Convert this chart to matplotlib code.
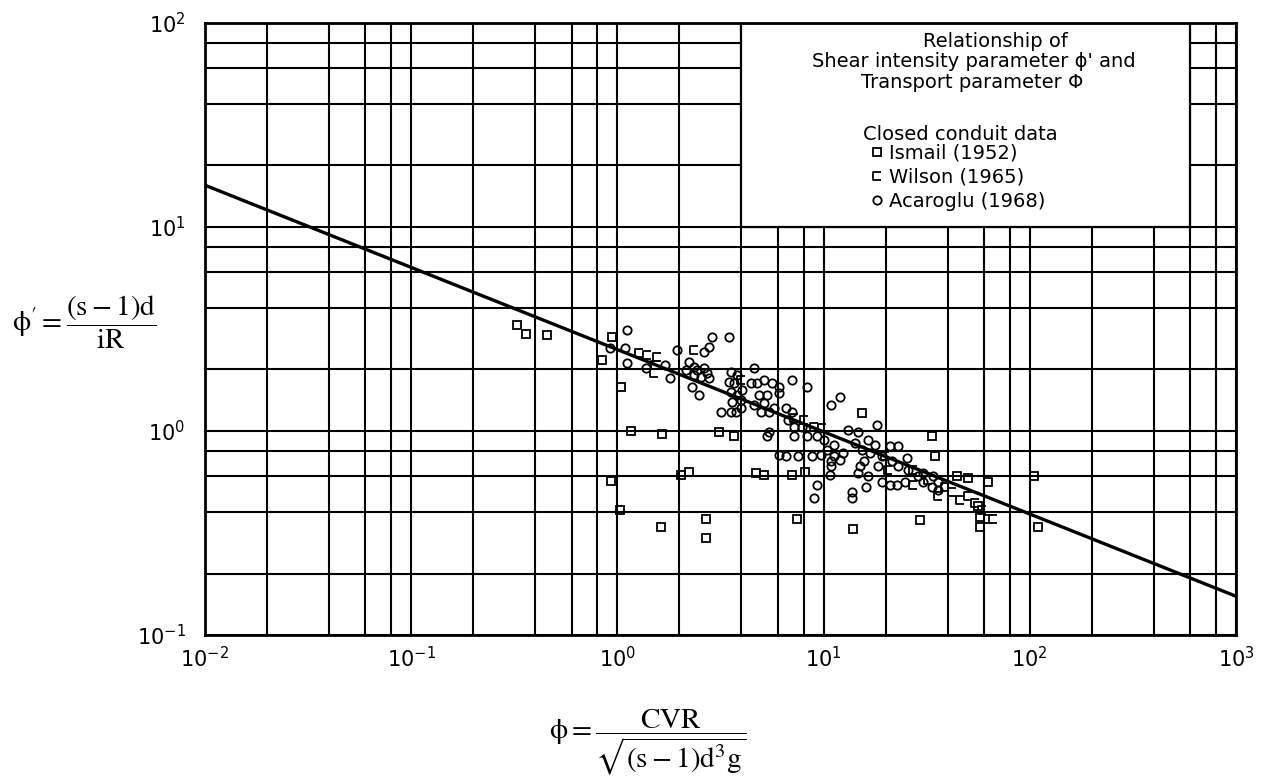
import matplotlib
matplotlib.use("Agg")
import matplotlib.pyplot as plt
from matplotlib.path import Path
from matplotlib.patches import Rectangle
from matplotlib.ticker import LogLocator, NullFormatter


# Ismail (1952), squares
ismail_x = [0.325, 0.362, 0.454, 0.94, 0.84, 1.04, 1.16, 1.64, 3.11, 3.68,
            15.3, 33.6, 34.8, 62.5, 57.7, 57.7, 56.0,
            4.7, 5.15, 7.0, 8.1, 2.03, 2.22,
            0.93, 1.03, 1.62, 2.7, 2.7, 7.4, 13.9, 29.4,
            44.5, 50.0, 105.0, 110.0]
ismail_y = [3.29, 3.0, 2.94, 2.87, 2.22, 1.64, 1.0, 0.97, 0.99, 0.94,
            1.22, 0.94, 0.75, 0.56, 0.38, 0.34, 0.43,
            0.62, 0.61, 0.61, 0.63, 0.61, 0.63,
            0.57, 0.41, 0.34, 0.37, 0.30, 0.37, 0.33, 0.365,
            0.60, 0.59, 0.60, 0.34]

# Wilson (1965), "c" marks
wilson_x = [1.27, 1.39, 1.55, 2.35, 1.53, 1.5, 3.97,
            7.22, 8.08, 9.04, 9.8,
            19.8, 20.5, 27.2, 32.2, 38.9, 27.2,
            36.0, 42.0, 46.0, 50.0, 54.5, 59.0, 62.5, 66.0]
wilson_y = [2.4, 2.35, 2.3, 2.48, 2.1, 1.92, 1.77,
            1.16, 1.13, 1.05, 1.03,
            0.75, 0.645, 0.645, 0.577, 0.53, 0.545,
            0.48, 0.50, 0.46, 0.48, 0.445, 0.41, 0.37, 0.37]

# Acaroglu (1968), circles
acaroglu_x = [1.11, 1.09, 0.92, 1.11, 1.94, 2.63, 2.78, 2.88, 3.48,
              1.37, 1.71, 1.81, 2.22, 2.35, 2.15, 2.43, 2.63, 2.72, 2.35, 2.54, 2.78, 2.3, 2.48,
              3.55, 3.8, 3.48, 3.68, 4.03, 3.55, 3.8, 3.6, 3.97, 3.97, 3.55, 3.18, 3.76,
              4.61, 4.45, 4.76, 5.15, 5.64, 6.1, 6.1, 4.87, 5.33, 4.61, 5.15, 5.0, 5.45, 5.77, 7.0, 8.36,
              6.6, 7.0, 6.7, 7.22, 7.9, 7.22, 8.36, 5.45, 5.33,
              10.9, 12.0, 18.1,
              9.3, 10.1, 11.3, 10.4, 9.7, 8.8, 7.5, 6.6, 6.1, 11.3, 12.4, 12.0, 10.9,
              13.1, 14.7, 16.4, 14.2, 15.3, 16.8, 15.8, 15.0, 14.7, 16.4, 18.3, 19.2, 17.7, 21.0, 23.0,
              21.5, 25.4, 23.0, 25.7, 28.7, 30.4, 34.0, 36.0,
              19.2, 21.0, 22.6, 24.8, 30.4, 33.6, 36.0,
              9.3, 9.0, 13.7, 13.7, 16.1, 10.9, 10.7]
acaroglu_y = [3.11, 2.54, 2.54, 2.15, 2.48, 2.43, 2.57, 2.87, 2.87,
              2.03, 2.1, 1.81, 2.17, 2.05, 1.98, 1.98, 2.03, 1.92, 1.88, 1.83, 1.81, 1.64, 1.5,
              1.94, 1.88, 1.73, 1.71, 1.58, 1.55, 1.5, 1.38, 1.42, 1.3, 1.24, 1.24, 1.24,
              2.03, 1.71, 1.71, 1.77, 1.71, 1.64, 1.53, 1.5, 1.5, 1.34, 1.37, 1.24, 1.24, 1.3, 1.77, 1.64,
              1.3, 1.24, 1.13, 1.05, 1.05, 0.94, 0.94, 0.99, 0.94,
              1.34, 1.46, 1.07,
              0.94, 0.90, 0.855, 0.81, 0.76, 0.75, 0.75, 0.75, 0.76, 0.75, 0.78, 0.72, 0.71,
              1.01, 0.99, 0.90, 0.87, 0.81, 0.78, 0.71, 0.67, 0.62, 0.60, 0.67, 0.75, 0.855, 0.84, 0.84,
              0.71, 0.74, 0.67, 0.645, 0.60, 0.62, 0.60, 0.56,
              0.56, 0.545, 0.545, 0.56, 0.56, 0.53, 0.515,
              0.545, 0.47, 0.50, 0.47, 0.53, 0.67, 0.61]

# fitted relation
line_x = [0.01, 1000]
line_y = [16.0, 0.155]

c_marker = Path([(0.5, 0.5), (-0.5, 0.5), (-0.5, -0.5), (0.5, -0.5)],
                [Path.MOVETO, Path.LINETO, Path.LINETO, Path.LINETO])

fig = plt.figure(figsize=(12.65, 7.84), dpi=100)
ax = fig.add_axes([0.162, 0.190, 0.815, 0.781])
ax.set_xscale("log")
ax.set_yscale("log")
ax.set_xlim(1e-2, 1e3)
ax.set_ylim(1e-1, 1e2)

# log paper grid: 1, 2, 4, 6, 8 in each decade
for axis in (ax.xaxis, ax.yaxis):
    axis.set_minor_locator(LogLocator(base=10, subs=(2, 4, 6, 8)))
    axis.set_minor_formatter(NullFormatter())
ax.grid(True, which="both", color="black", lw=1.5)
ax.tick_params(which="both", length=0, labelsize=15)
ax.tick_params(axis="x", pad=8)
ax.tick_params(axis="y", pad=14)
for s in ax.spines.values():
    s.set_linewidth(2)

ax.plot(line_x, line_y, color="black", lw=2.4, zorder=3)

ax.plot(ismail_x, ismail_y, ls="none", marker="s", ms=5.5, mfc="none",
        mec="black", mew=1.3, zorder=4, label="Ismail (1952)")
ax.plot(wilson_x, wilson_y, ls="none", marker=c_marker, ms=6, mfc="none",
        mec="black", mew=1.3, zorder=4, label="Wilson (1965)")
ax.plot(acaroglu_x, acaroglu_y, ls="none", marker="o", ms=6, mfc="none",
        mec="black", mew=1.3, zorder=4, label="Acaroglu (1968)")

# white legend panel over the grid
ax.add_patch(Rectangle((4, 10), 596, 90, facecolor="white", edgecolor="black",
                       lw=1.6, zorder=2.2))

ax.text(0.767, 0.970, "Relationship of", transform=ax.transAxes,
        ha="center", va="center", fontsize=14, zorder=5)
ax.text(0.746, 0.937, "Shear intensity parameter \u03d5' and", transform=ax.transAxes,
        ha="center", va="center", fontsize=14, zorder=5)
ax.text(0.744, 0.902, "Transport parameter \u03a6", transform=ax.transAxes,
        ha="center", va="center", fontsize=14, zorder=5)
ax.text(0.638, 0.818, "Closed conduit data", transform=ax.transAxes,
        ha="left", va="center", fontsize=14, zorder=5)

leg = ax.legend(loc="upper left", bbox_to_anchor=(0.645, 0.802), frameon=False,
                fontsize=14, handlelength=0.7, handletextpad=0.3,
                labelspacing=0.25, borderpad=0, borderaxespad=0)
leg.set_zorder(5)

ax.set_ylabel("$\\mathrm{\u03d5}' = \\dfrac{\\mathrm{(s-1)d}}{\\mathrm{iR}}$",
              rotation=0, ha="left", va="center", fontsize=21, math_fontfamily="stix")
ax.yaxis.set_label_coords(-0.187, 0.51)
ax.set_xlabel(r"$\mathrm{\u03d5} = \dfrac{\mathrm{CVR}}{\sqrt{\mathrm{(s-1)d^3g}}}$".replace("\\u03d5", "\u03d5"),
              ha="center", va="center", fontsize=21, math_fontfamily="stix")
ax.xaxis.set_label_coords(0.43, -0.175)

fig.savefig("out.png", dpi=100)
